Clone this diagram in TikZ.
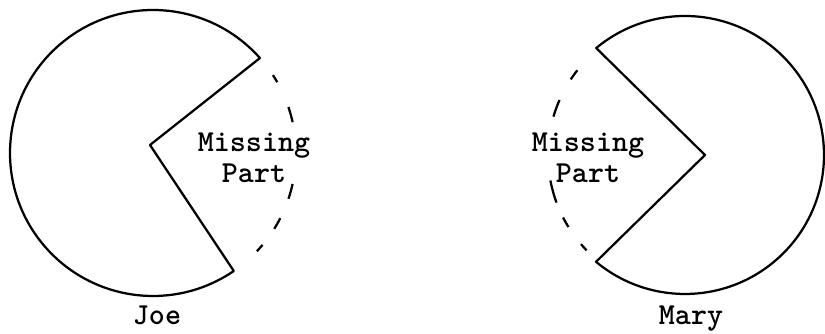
\documentclass[tikz,border=0pt]{standalone}
\begin{document}
\begin{tikzpicture}[x=0.025cm, y=0.025cm,
  every node/.style={align=center, inner sep=1pt, font=\ttfamily\bfseries\fontsize{21.7}{22}\selectfont},
  pie/.style={line width=1.6pt, line join=round},
  slice/.style={line width=1.6pt}]
  \useasboundingbox (0,0) rectangle (825,334);

  % Joe: the slice is gone on the right
  \coordinate (joe) at (153,181);
  \draw[pie] (150,189) -- ([shift={(41.6:143)}]joe) arc[start angle=41.6, end angle=304.4, radius=143] -- cycle;
  \draw[slice, dash pattern=on 5.9pt off 19.4pt on 11.2pt off 44.3pt on 10.9pt off 15pt on 8.7pt off 14.2pt on 6.4pt off 10pt]
    ([shift={(33:143)}]joe) arc[start angle=33, end angle=-43.4, radius=143];
  \node (joemiss) at (254,176) {Missing\\Part};
  \node[anchor=base] (joename) at (157,9) {Joe};

  % Mary: the slice is gone on the left
  \coordinate (mary) at (685,179);
  \draw[pie] (705,179) -- ([shift={(129.7:139)}]mary) arc[start angle=129.7, end angle=-129.8, radius=139] -- cycle;
  \draw[slice, dash pattern=on 8pt off 16.7pt on 12.6pt off 45.9pt on 16.3pt off 11.6pt on 7.8pt off 15.1pt on 6pt off 10pt]
    ([shift={(141.8:137)}]mary) arc[start angle=141.8, end angle=224.1, radius=137];
  \node (marymiss) at (588,176) {Missing\\Part};
  \node[anchor=base] (maryname) at (691,9) {Mary};
\end{tikzpicture}
\end{document}
